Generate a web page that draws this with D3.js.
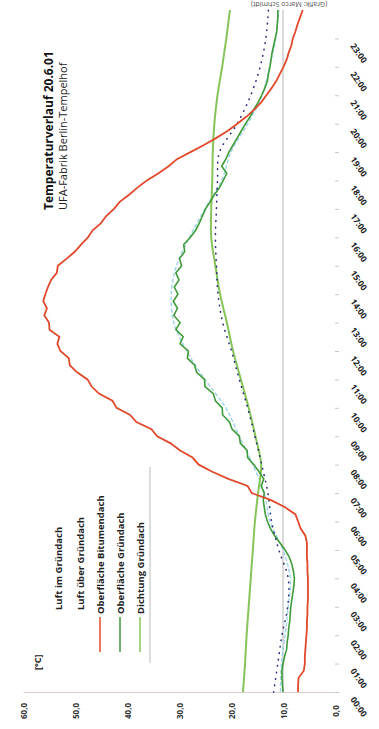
<!DOCTYPE html>
<html>
<head>
<meta charset="utf-8">
<script src="https://cdn.jsdelivr.net/npm/d3@7"></script>
<style>
  body { margin: 0; background: #fff; }
  svg { display: block; }
  text { font-family: "Open Sans", "DejaVu Sans", sans-serif; }
</style>
</head>
<body>
<svg id="chart" width="379" height="729"></svg>
<script>
// series names (legend order)
const seriesNames = ["Luft im Gründach", "Luft über Gründach", "Oberfläche Bitumendach", "Oberfläche Gründach", "Dichtung Gründach"];

// tick labels
const tempTicks = [0, 10, 20, 30, 40, 50, 60];
const hourLabels = ["00:00","01:00","02:00","03:00","04:00","05:00","06:00","07:00","08:00","09:00","10:00","11:00",
                    "12:00","13:00","14:00","15:00","16:00","17:00","18:00","19:00","20:00","21:00","22:00","23:00"];

// Oberfläche Bitumendach, every 15 minutes, 00:00 .. 24:00
const bitumen = [7.1,7.1,7.0,6.0,5.8,5.8,5.7,5.6,5.5,5.4,5.4,5.3,5.3,5.2,5.2,5.2,
  5.2,5.3,5.3,5.4,5.4,5.4,5.7,6.6,7.1,7.6,9.6,12.3,16.0,16.8,20.5,23.6,
  26.2,27.4,29.8,31.6,34.2,35.3,38.2,39.4,42.0,42.8,45.4,46.8,47.6,49.6,51.0,51.2,
  52.8,53.4,53.0,54.9,55.0,55.9,55.4,56.1,55.7,55.2,54.6,53.5,53.3,51.6,50.0,48.8,
  47.5,46.6,45.0,44.0,42.5,41.4,39.6,38.0,36.2,34.0,32.0,30.4,27.8,25.2,22.8,20.6,
  18.8,17.0,15.5,14.2,13.2,12.2,11.3,10.6,9.9,9.3,8.9,8.4,8.1,7.6,7.2,6.7,6.2];

// Oberfläche Gründach, every 15 minutes
const gruenOberflaeche = [10.0,10.1,10.2,10.2,10.0,9.7,9.3,9.2,9.0,8.9,8.7,8.6,8.5,8.3,8.1,7.9,
  7.8,8.0,8.3,8.8,9.6,10.6,11.6,12.4,13.0,13.4,13.6,13.8,13.6,14.2,13.7,14.6,
  15.6,16.8,16.9,18.2,18.4,19.8,20.3,21.6,21.7,23.0,23.4,25.0,25.1,26.6,27.0,28.4,
  28.2,29.8,29.2,30.6,29.8,31.0,30.3,31.1,30.2,30.9,30.0,30.6,29.5,29.9,28.9,29.1,
  27.8,26.8,26.1,25.5,24.9,24.0,23.2,22.2,21.5,20.8,21.8,21.0,20.4,19.6,18.8,18.0,
  17.2,16.3,15.6,14.8,14.1,13.5,13.0,12.8,12.5,12.3,12.1,11.8,11.5,11.2,11.1,11.0,11.0];

// hourly series, 00:00 .. 24:00
const luftIm = [11.8,11.0,10.2,9.1,9.0,10.8,12.2,12.9,14.1,15.4,16.8,18.4,19.9,21.6,22.5,22.8,23.0,22.8,22.6,22.2,18.8,16.2,14.4,13.3,12.8];
const luftUeber = [10.5,10.3,9.6,9.0,8.6,10.0,12.5,13.6,15.8,18.4,21.0,25.0,28.5,31.0,31.5,30.5,28.0,25.0,21.8,20.0,16.8,14.0,12.6,11.4,10.8];
const dichtung = [17.7,17.3,17.0,16.6,16.2,15.8,15.4,14.8,14.2,15.3,16.6,18.1,19.6,20.8,22.1,23.0,23.8,23.8,23.6,23.5,23.2,22.6,21.7,20.9,20.2];

const colors = ["#2d2f7c", "#9fd3ea", "#e0492b", "#3f9b3a", "#86c45a"];

const svg = d3.select("#chart");

// temperature runs right-to-left, time runs bottom-to-top
const x = d3.scaleLinear().domain([0, 60]).range([335, 23]);
const y = d3.scaleLinear().domain([0, 24]).range([692, 10]);

// credit line (upside down at top)
svg.append("text")
  .attr("transform", "translate(289,2) rotate(180)")
  .attr("text-anchor", "middle")
  .attr("font-size", "7px")
  .attr("fill", "#555")
  .text("(Grafik: Marco Schmidt)");

// 10 degree reference line
svg.append("line")
  .attr("x1", x(10)).attr("x2", x(10))
  .attr("y1", y(24)).attr("y2", y(0))
  .attr("stroke", "#b5b5b5").attr("stroke-width", 1);

// temperature axis (bottom)
const tAxis = svg.append("g")
  .attr("transform", `translate(0,${y(0)})`)
  .call(d3.axisBottom(x).tickValues(tempTicks).tickSize(0)
    .tickFormat(d => d3.format(".1f")(d).replace(".", ",")));
tAxis.select(".domain").attr("stroke", "#d8cccc");
tAxis.selectAll("text")
  .attr("transform", "rotate(-90)")
  .attr("x", -19).attr("y", 3).attr("dy", 0)
  .attr("text-anchor", "middle")
  .attr("font-size", "8px").attr("font-weight", "bold").attr("fill", "#333");

// time axis (right)
const hAxis = svg.append("g")
  .attr("transform", `translate(${x(0)},0)`)
  .call(d3.axisRight(y).tickValues(hourLabels.map((d, i) => i)).tickSize(4)
    .tickFormat(i => hourLabels[i]));
hAxis.select(".domain").remove();
hAxis.selectAll(".tick line").attr("stroke", "#c8c8c8");
hAxis.selectAll(".tick text")
  .attr("x", 0).attr("dy", 0)
  .attr("transform", "translate(15,7) rotate(55)")
  .attr("text-anchor", "start")
  .attr("font-size", "8.5px").attr("font-weight", "bold").attr("fill", "#222");

// series
const line = d3.line().x(d => x(d.v)).y(d => y(d.t));
const quarter = arr => arr.map((v, i) => ({ t: i * 0.25, v }));
const hourly = arr => arr.map((v, i) => ({ t: i, v }));
const smooth = d3.line().x(d => x(d.v)).y(d => y(d.t)).curve(d3.curveCatmullRom);

svg.append("path").datum(hourly(luftUeber))
  .attr("d", smooth).attr("fill", "none")
  .attr("stroke", colors[1]).attr("stroke-width", 1.4).attr("stroke-dasharray", "4,2");

svg.append("path").datum(hourly(dichtung))
  .attr("d", smooth).attr("fill", "none")
  .attr("stroke", colors[4]).attr("stroke-width", 2);

svg.append("path").datum(quarter(gruenOberflaeche))
  .attr("d", line).attr("fill", "none")
  .attr("stroke", colors[3]).attr("stroke-width", 1.6);

svg.append("path").datum(hourly(luftIm))
  .attr("d", smooth).attr("fill", "none")
  .attr("stroke", colors[0]).attr("stroke-width", 1.6)
  .attr("stroke-linecap", "round").attr("stroke-dasharray", "0.5,6");

svg.append("path").datum(quarter(bitumen))
  .attr("d", line).attr("fill", "none")
  .attr("stroke", colors[2]).attr("stroke-width", 1.8);

// title
svg.append("text")
  .attr("transform", "translate(53,210) rotate(-90)")
  .attr("font-size", "12px").attr("font-weight", "bold").attr("fill", "#111")
  .text("Temperaturverlauf 20.6.01");
svg.append("text")
  .attr("transform", "translate(67,210) rotate(-90)")
  .attr("font-size", "11px").attr("fill", "#222")
  .text("UFA-Fabrik Berlin-Tempelhof");

// legend
svg.append("line")
  .attr("x1", 150).attr("x2", 150).attr("y1", 467).attr("y2", 663)
  .attr("stroke", "#bbb");
svg.append("text")
  .attr("transform", "translate(41,670) rotate(-90)")
  .attr("font-size", "9px").attr("font-weight", "bold").attr("fill", "#222")
  .text("[°C]");

const legendX = [58, 80, 100, 120, 140];
const lg = svg.append("g");
seriesNames.forEach((name, i) => {
  if (i >= 2) {
    lg.append("line")
      .attr("x1", legendX[i]).attr("x2", legendX[i])
      .attr("y1", 617).attr("y2", 652)
      .attr("stroke", colors[i]).attr("stroke-width", 1.5);
  }
  lg.append("text")
    .attr("transform", `translate(${legendX[i] + 3.5},${i < 2 ? 610 : 614}) rotate(-90)`)
    .attr("font-size", "9.5px").attr("font-weight", "bold").attr("fill", "#222")
    .text(name);
});
</script>
</body>
</html>
